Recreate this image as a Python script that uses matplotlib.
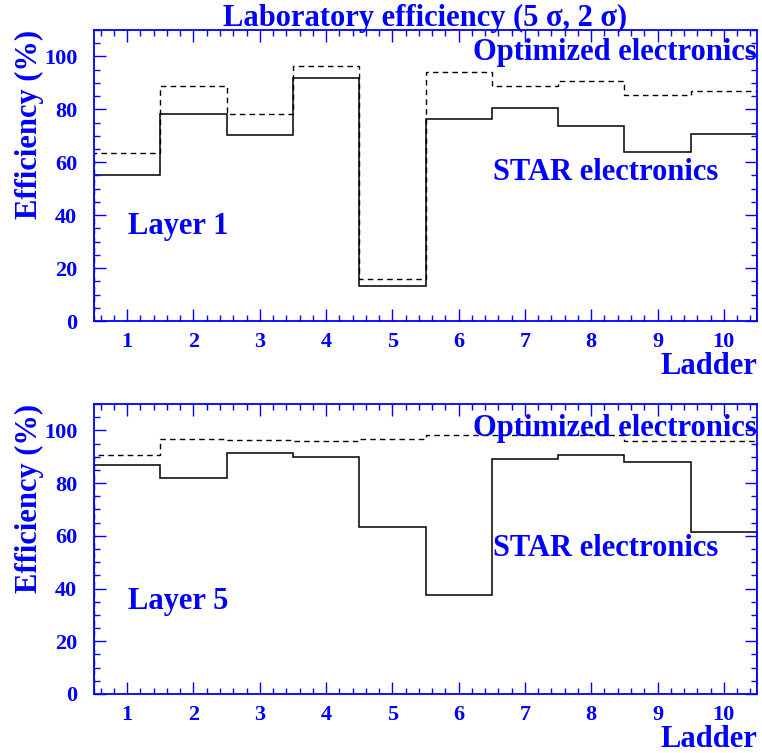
import matplotlib
matplotlib.use("Agg")
import matplotlib.pyplot as plt
import numpy as np
from matplotlib.ticker import MultipleLocator

# ladder bins 1..10
ladders = np.arange(1, 11)
edges = np.arange(0.5, 11.0, 1.0)

# layer 1 efficiency (%)
star_l1 = [55.1, 78.2, 70.2, 91.7, 13.2, 76.5, 80.5, 73.6, 63.9, 70.7]
opt_l1 = [63.5, 88.9, 78.2, 96.4, 15.9, 94.1, 89.0, 90.8, 85.5, 86.9]

# layer 5 efficiency (%)
star_l5 = [87.0, 81.9, 91.5, 90.0, 63.4, 37.6, 89.3, 90.5, 87.9, 61.6]
opt_l5 = [90.8, 96.8, 96.5, 96.0, 96.8, 98.1, 98.1, 98.1, 96.0, 96.0]

blue = "#0000ff"
serif = "Liberation Serif"

fig = plt.figure(figsize=(7.62, 7.53), dpi=100)
ax1 = fig.add_axes([0.1234, 0.5737, 0.870, 0.3865])
ax2 = fig.add_axes([0.1234, 0.0784, 0.870, 0.3851])


def setup(ax, layer, star, opt, opt_y, star_y, lay_y):
    ax.stairs(star, edges, color="black", linewidth=1.1)
    ax.stairs(opt, edges, color="black", linewidth=1.0, linestyle=(0, (4, 3)))
    ax.set_xlim(0.5, 10.5)
    ax.set_ylim(0, 110)
    ax.set_xticks(ladders)
    ax.set_yticks([0, 20, 40, 60, 80, 100])
    ax.xaxis.set_minor_locator(MultipleLocator(0.2))
    ax.yaxis.set_minor_locator(MultipleLocator(5))
    ax.tick_params(which="both", direction="in", top=True, right=True, color=blue)
    ax.tick_params(which="major", length=8.5, width=1)
    ax.tick_params(which="minor", length=4.3, width=1)
    ax.tick_params(axis="x", pad=8)
    ax.tick_params(axis="y", pad=12)
    for lab in ax.get_xticklabels() + ax.get_yticklabels():
        lab.set_fontfamily(serif)
        lab.set_fontweight("bold")
        lab.set_fontsize(16)
        lab.set_color(blue)
    for sp in ax.spines.values():
        sp.set_color(blue)
        sp.set_linewidth(1.3)
    txt = dict(color=blue, fontfamily=serif, fontweight="bold", fontsize=22)
    ax.text(1.0, opt_y, "Optimized electronics", transform=ax.transAxes,
            ha="right", va="center", **txt)
    ax.text(0.772, star_y, "STAR electronics", transform=ax.transAxes,
            ha="center", va="center", **txt)
    ax.text(0.051, lay_y, layer, transform=ax.transAxes,
            ha="left", va="center", **txt)
    ax.set_ylabel("Efficiency (%)", color=blue, fontfamily=serif,
                  fontweight="bold", fontsize=22, loc="top", labelpad=0)
    ax.set_xlabel("Ladder", color=blue, fontfamily=serif, fontweight="bold",
                  fontsize=22, loc="right", labelpad=0)


setup(ax1, "Layer 1", star_l1, opt_l1, 0.921, 0.509, 0.326)
setup(ax2, "Layer 5", star_l5, opt_l5, 0.917, 0.503, 0.32)

fig.text(0.558, 0.976, "Laboratory efficiency (5 \u03c3, 2 \u03c3)", ha="center",
         va="center", color=blue, fontfamily=serif, fontweight="bold", fontsize=22)

fig.savefig("out.png", dpi=100)
